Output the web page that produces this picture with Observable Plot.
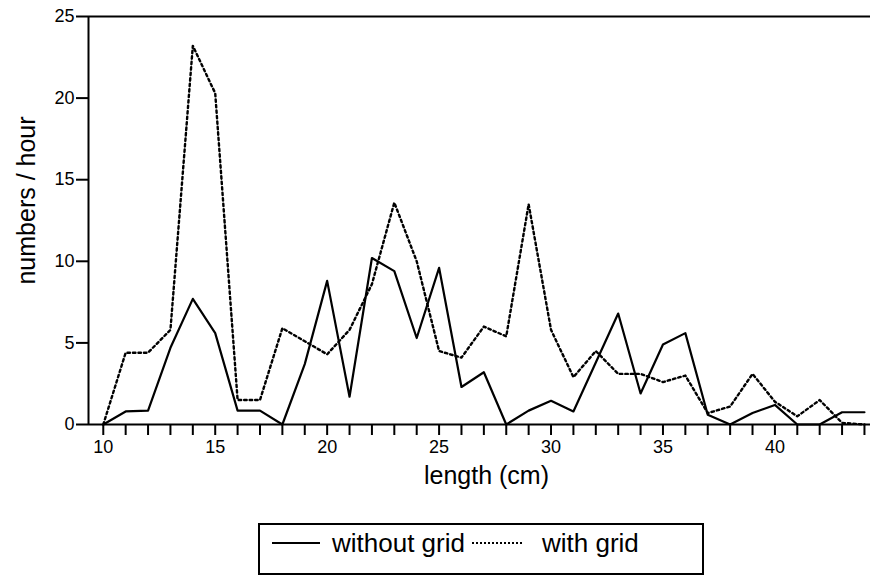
<!DOCTYPE html>
<html>
<head>
<meta charset="utf-8">
<script src="https://cdn.jsdelivr.net/npm/d3@7"></script>
<script src="https://cdn.jsdelivr.net/npm/@observablehq/plot@0.6"></script>
<style>
  html, body { margin: 0; padding: 0; background: white; overflow: hidden; }
  #wrap { position: relative; width: 870px; height: 576px; font-family: "Liberation Sans", Arial, sans-serif; }
  #legend { position: absolute; left: 258px; top: 523px; width: 446px; height: 52px; box-sizing: border-box; border: 2px solid black; }
  #legend .row { display: flex; align-items: center; height: 36px; font-size: 26px; color: black; }
</style>
</head>
<body>
<div id="wrap">
  <div id="chart"></div>
  <div id="legend">
    <div class="row">
      <svg width="62" height="10" style="margin-left:10px"><line x1="2" x2="50" y1="5" y2="5" stroke="black" stroke-width="2.2"/></svg>
      <span>without grid</span>
      <svg width="62" height="10" style="margin-left:5px"><line x1="2" x2="54" y1="5" y2="5" stroke="black" stroke-width="2.2" stroke-dasharray="2,2"/></svg>
      <span style="margin-left:10px">with grid</span>
    </div>
  </div>
</div>
<script>
const lengths = [10,11,12,13,14,15,16,17,18,19,20,21,22,23,24,25,26,27,28,29,30,31,32,33,34,35,36,37,38,39,40,41,42,43,44];
const withoutGrid = [0,0.8,0.85,4.7,7.7,5.6,0.85,0.85,0,3.7,8.8,1.7,10.2,9.4,5.3,9.6,2.3,3.2,0,0.85,1.45,0.8,3.8,6.8,1.9,4.9,5.6,0.6,0,0.7,1.2,0,0,0.75,0.75];
const withGrid = [0,4.4,4.4,5.8,23.2,20.3,1.5,1.5,5.9,5.1,4.3,5.8,8.6,13.6,10.0,4.5,4.1,6.0,5.4,13.5,5.8,2.9,4.5,3.1,3.1,2.6,3.0,0.7,1.1,3.1,1.4,0.5,1.5,0.1,0];
const yTicks = [0,5,10,15,20,25];
const xTickLabels = [10,15,20,25,30,35,40];
const xDomain = [9.34, 44.27];
const yDomain = [0, 25];

const rows = lengths.map((x, i) => ({x, without: withoutGrid[i], withg: withGrid[i]}));

const chart = Plot.plot({
  width: 870,
  height: 500,
  marginLeft: 88,
  marginRight: 0,
  marginTop: 16,
  marginBottom: 76,
  x: {domain: xDomain},
  y: {domain: yDomain},
  style: {fontFamily: "Liberation Sans, Arial, sans-serif", fontSize: "18px", color: "black", background: "white", overflow: "visible"},
  marks: [
    Plot.axisY(yTicks, {tickSize: 12, tickPadding: 2, fontSize: 18, strokeWidth: 2, label: null}),
    Plot.axisX(lengths, {tickSize: 11, tickPadding: 5, fontSize: 18, strokeWidth: 2, label: null,
      tickFormat: d => xTickLabels.includes(d) ? String(d) : ""}),
    Plot.ruleX([xDomain[0]], {stroke: "black", strokeWidth: 2}),
    Plot.ruleY([yDomain[0], yDomain[1]], {stroke: "black", strokeWidth: 2}),
    Plot.line(rows, {x: "x", y: "without", stroke: "black", strokeWidth: 2.2}),
    Plot.line(rows, {x: "x", y: "withg", stroke: "black", strokeWidth: 2.4, strokeDasharray: "2.5,3"}),
    Plot.text(["numbers / hour"], {text: d => d, frameAnchor: "left", textAnchor: "middle", lineAnchor: "middle", rotate: -90, dx: -62, dy: -20, fontSize: 25, fill: "black"}),
    Plot.text(["length (cm)"], {text: d => d, frameAnchor: "bottom", textAnchor: "middle", lineAnchor: "middle", dx: 7, dy: 51, fontSize: 25, fill: "black"})
  ]
});
document.getElementById("chart").appendChild(chart);
</script>
</body>
</html>
